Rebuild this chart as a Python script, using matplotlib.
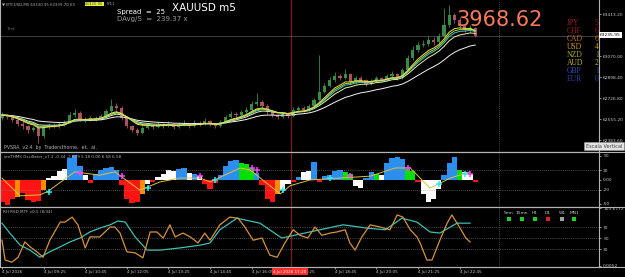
import numpy as np
import pandas as pd
import matplotlib
matplotlib.use('Agg')
import matplotlib.pyplot as plt
from matplotlib.lines import Line2D
from matplotlib.patches import Rectangle

W, H = 625, 277

# candles (one per 10 minutes)
first_open = 62560
closes = [62588, 62572, 62548, 62515, 62499, 62466, 62482, 62417, 62490, 62507,
          62499, 62515, 62531, 62588, 62605, 62556, 62548, 62564, 62556, 62580,
          62621, 62662, 62646, 62564, 62499, 62466, 62441, 62482, 62499, 62490,
          62507, 62499, 62515, 62490, 62507, 62515, 62499, 62523, 62515, 62539,
          62515, 62499, 62531, 62572, 62597, 62588, 62613, 62629, 62678, 62695,
          62662, 62613, 62588, 62572, 62597, 62580, 62629, 62646, 62629, 62662,
          62711, 62776, 62825, 62874, 62907, 62891, 62923, 62858, 62891, 62874,
          62842, 62866, 62891, 62874, 62907, 62923, 62891, 62956, 63054, 63120,
          63160, 63168, 63201, 63185, 63234, 63324, 63405, 63365, 63316, 63283,
          63299, 63236]
highs = [62615, 62600, 62590, 62560, 62540, 62510, 62500, 62495, 62505, 62525,
         62520, 62530, 62550, 62610, 62640, 62620, 62570, 62580, 62578, 62595,
         62640, 62715, 62690, 62660, 62575, 62510, 62480, 62495, 62515, 62510,
         62530, 62520, 62540, 62525, 62520, 62550, 62525, 62545, 62535, 62560,
         62550, 62525, 62545, 62590, 62620, 62610, 62630, 62650, 62700, 62770,
         62710, 62675, 62625, 62600, 62615, 62610, 62650, 62665, 62660, 62680,
         62730, 63080, 62850, 62900, 62940, 62925, 62960, 62935, 62910, 62905,
         62885, 62880, 62910, 62900, 62925, 62945, 62935, 62975, 63080, 63150,
         63185, 63200, 63230, 63225, 63260, 63460, 63490, 63420, 63385, 63330,
         63320, 63310]
lows = [62545, 62555, 62530, 62495, 62470, 62440, 62450, 62360, 62400, 62475,
        62480, 62485, 62500, 62520, 62575, 62540, 62530, 62535, 62540, 62545,
        62570, 62610, 62630, 62550, 62485, 62450, 62425, 62430, 62470, 62475,
        62480, 62485, 62490, 62470, 62480, 62495, 62480, 62490, 62500, 62505,
        62495, 62480, 62490, 62520, 62560, 62570, 62575, 62600, 62620, 62665,
        62645, 62600, 62570, 62555, 62560, 62565, 62570, 62615, 62615, 62620,
        62650, 62700, 62765, 62815, 62860, 62875, 62880, 62840, 62845, 62860,
        62825, 62830, 62855, 62860, 62865, 62895, 62875, 62880, 62945, 63040,
        63100, 63140, 63150, 63160, 63170, 63225, 63310, 63340, 63300, 63265,
        63270, 63225]
last_price = 63235.95
price_ticks = [63413.20, 63070.00, 62898.40, 62726.80, 62555.20, 62383.60]

# oscillator histogram
osc_values = [-45, -52, -40, -35, -28, -42, -46, -44, -20, 5,
              8, 18, 22, 45, 52, 30, 10, -6, 12, 20,
              25, 28, 20, -10, -40, -48, -45, -30, -8, -5,
              6, 12, 20, 18, 22, 25, 14, 12, 8, -8,
              -18, -6, 10, 30, 40, 42, 35, 34, 25, 15,
              -10, -40, -46, -30, -20, -8, -5, 6, 16, 18,
              37, -4, 8, 10, 18, 20, 16, 12, -12, -17,
              5, 16, 12, 10, 35, 46, 48, 44, 22, 18,
              -4, -30, -45, -40, -18, 10, 35, 48, 20, 16,
              12, -4]
osc_codes = ("rrrorrrrow" "wwwbbbwrbb" "bbbrrrrowr" "wwwwbbwbwr" "rrbbbbgggb"
             "rrrowwrbww" "brbbbbggww" "bbgwbbbbgg" "rwwwwbbbgw" "wr")
signal_bars = [0, 3.5, 7.3, 8.8, 14, 18.8, 21.7, 26.5, 30.4, 34.2, 38.1, 40,
               45.8, 47.7, 53.5, 55.4, 59.2, 65, 70.8, 75.6, 78.5, 82.3, 86.2, 90]
signal_values = [4, -33, -31, -24, 17, 10, 17, -21, -4, 4, 4, -4,
                 25, 21, -29, -12, 0, 4, 8, 25, 25, -17, 4, 17]
sell_bars = [15, 23, 38, 48, 49, 67, 78, 90]
sell_values = [15, 8, 8, 25, 21, 8, 25, 12]
buy_bars = [9, 28, 41, 54, 63, 84, 89]
buy_values = [-25, -17, 0, -21, 4, -8, 12]

# RSI MTF lines
fast_bars = [0, 0.6, 1.9, 3.1, 4.4, 5.4, 6.7, 7.9, 9.2, 11.2, 12.1, 13.5, 14.6, 16,
             16.9, 18.8, 20.8, 21.7, 22.7, 24, 25.6, 27.1, 28.5, 29.8, 31, 32.3,
             33.3, 34.8, 36.2, 37.7, 39, 40, 41.9, 43.8, 45.4, 46.7, 48.3, 50,
             51.5, 52.9, 54.4, 56, 57.3, 58.8, 60.2, 61.5, 63.1, 64.4, 66, 66.9,
             67.9, 69.2, 70.8, 72.7, 74.6, 76, 77.1, 78.5, 79.8, 80.4, 81.7, 82.7,
             84.2, 85.6, 86.5, 87.7, 89.2, 90]
fast_rsi = [46, 10, 6, 15, 43, 34, 25, 15, 46, 79, 79, 88, 74, 32, 52, 52, 70, 70,
            59, 25, 23, 14, 61, 61, 50, 74, 52, 59, 52, 41, 59, 46, 74, 88, 86, 70,
            46, 50, 19, 15, 41, 65, 55, 50, 70, 55, 59, 61, 65, 41, 28, 52, 74, 70,
            65, 92, 88, 65, 52, 41, 10, 10, 46, 77, 92, 74, 50, 43]
slow_bars = [0, 1.5, 3.5, 5.4, 7.3, 9.2, 11.2, 13.1, 15, 16.9, 18.8, 20.8, 22.3,
             23.7, 25.6, 27.9, 30.4, 34.2, 38.1, 40, 41.9, 45.2, 49.6, 53.8, 59.2,
             65.6, 70.2, 73.7, 76.9, 79.8, 82.3, 84.2, 87.5, 90]
slow_rsi = [77, 59, 37, 28, 15, 25, 34, 43, 50, 61, 68, 74, 81, 79, 52, 28, 28, 32,
            37, 41, 65, 86, 77, 50, 61, 74, 68, 65, 86, 79, 61, 59, 77, 77]

time_labels = ['4 Jul 2026', '4 Jul 09:25', '4 Jul 10:45', '4 Jul 12:05',
               '4 Jul 13:25', '4 Jul 14:45', '4 Jul 16:05', '4 Jul 17:25',
               '4 Jul 18:45', '4 Jul 20:05', '4 Jul 21:25', '4 Jul 22:45']

currencies = ['JPY', 'CHF', 'CAD', 'USD', 'NZD', 'AUD', 'GBP', 'EUR']
currency_digits = ['5', '6', '6', '4', '1', '2', '1', '0']
currency_colors = ['#a41c1c', '#9c1a1a', '#c06a1c', '#c8a020', '#b0b028',
                   '#c8b030', '#3050b8', '#2a46a0']

mtf_frames = ['5mn', '15mn', 'H1', 'D1', 'W1', 'MN1']
mtf_colors = ['#20d020', '#20d020', '#20d020', '#e02020', '#a0a0a0', '#20d020']


def fx(x):
    return x / W


def fy(y):
    return 1 - y / H


fig = plt.figure(figsize=(W / 100, H / 100), dpi=100, facecolor='black')
ax_main = fig.add_axes([0, fy(152), 599 / W, 152 / H])
ax_osc = fig.add_axes([0, fy(207), 599 / W, 55 / H])
ax_rsi = fig.add_axes([0, fy(267), 599 / W, 60 / H])

grey = '#c8c8c8'
for ax in (ax_main, ax_osc, ax_rsi):
    ax.set_facecolor('black')
    ax.set_xlim(-0.38, 114.8)
    for s in ax.spines.values():
        s.set_color('#b4b4b4')
        s.set_linewidth(0.8)
    ax.yaxis.tick_right()
    ax.tick_params(axis='y', colors=grey, labelsize=3.2, length=1.5, width=0.5, pad=1.5)
    ax.tick_params(axis='x', bottom=False, labelbottom=False)
    ax.axvline(55.6, color='#7a1a1a', lw=0.9, zorder=1)
    ax.axvline(95.6, color='#8c8c8c', lw=0.5, ls=(0, (1, 2)))
ax_main.spines['top'].set_visible(False)

# main price panel
idx = np.arange(len(closes))
c = np.array(closes, dtype=float)
o = np.array([first_open] + closes[:-1], dtype=float)
up = c >= o
cols = np.where(up, '#3a8a48', '#a8545c')
ax_main.vlines(idx, lows, highs, colors=cols, lw=0.6, zorder=2)
ax_main.bar(idx, np.maximum(np.abs(c - o), 3), bottom=np.minimum(o, c),
            width=0.62, color=cols, lw=0, zorder=2)
s = pd.Series(closes, dtype=float)
for span, col in [(20, '#f4f4f4'), (10, '#f0f0a0'), (8, '#40c8d0'), (7, '#a8e040'), (6, '#f0dc50')]:
    ax_main.plot(idx, s.ewm(span=span, adjust=False).mean(), color=col, lw=0.7, zorder=3)
ax_main.axhline(last_price, color='#5a5a5a', lw=0.5, zorder=1)
ax_main.set_ylim(62285.8, 63527.6)
ax_main.set_yticks(price_ticks)
ax_main.set_yticklabels(['%.2f' % v for v in price_ticks])

for i, (cur, dig, col) in enumerate(zip(currencies, currency_digits, currency_colors)):
    yy = 1 - (23 + 8 * i) / 152
    ax_main.text(567 / 599, yy, cur, transform=ax_main.transAxes, color=col,
                 fontsize=5.5, family='Liberation Serif', va='center', ha='left')
    ax_main.text(595 / 599, yy, dig, transform=ax_main.transAxes, color=col,
                 fontsize=5.5, family='Liberation Serif', va='center', ha='left', clip_on=True)

# oscillator panel
cmap = {'r': '#ff1414', 'o': '#ff8c00', 'w': '#ffffff', 'b': '#2b8ff0', 'g': '#00e000'}
ax_osc.bar(np.arange(len(osc_values)), osc_values, width=1.0,
           color=[cmap[k] for k in osc_codes], lw=0, zorder=2)
ax_osc.plot(signal_bars, signal_values, color='#e0c040', lw=0.7, zorder=3)
ax_osc.plot(sell_bars, sell_values, ls='none', marker='+', color='#ff40ff', ms=4, mew=1.1, zorder=4)
ax_osc.plot(buy_bars, buy_values, ls='none', marker='+', color='#30e8f0', ms=4, mew=1.1, zorder=4)
for lvl in (20, -20):
    ax_osc.axhline(lvl, color='#8c8c8c', lw=0.5, ls=(0, (1, 2)))
ax_osc.set_ylim(-56.3, 58.3)
ax_osc.set_yticks([50, 20, 0, -20, -50])
ax_osc.set_yticklabels(['50', '20', '0.00', '-20', '-50'])

# RSI panel
ax_rsi.plot(slow_bars, slow_rsi, color='#3cc0b4', lw=0.9)
ax_rsi.plot(fast_bars, fast_rsi, color='#d8933c', lw=0.9)
for lvl in (70, 50, 30):
    ax_rsi.axhline(lvl, color='#8c8c8c', lw=0.5, ls=(0, (1, 2)))
ax_rsi.set_ylim(-2.7, 106.4)
ax_rsi.set_yticks([103.6772, 70, 50, 30, 0])
ax_rsi.set_yticklabels(['103.6772', '70', '50', '30', '0.0052'])
ax_rsi.set_xticks(np.arange(0, 8 * len(time_labels), 8))
ax_rsi.set_xticklabels(time_labels)
ax_rsi.tick_params(axis='x', bottom=True, labelbottom=True, labelsize=3, colors=grey,
                   length=1.5, width=0.5, pad=1)
for lbl in ax_rsi.get_xticklabels():
    lbl.set_ha('left')

# separators across the price strip
for yy in (152, 207, 267):
    fig.add_artist(Line2D([0, 1], [fy(yy), fy(yy)], color='#b4b4b4', lw=0.8,
                          transform=fig.transFigure))

# texts
fig.text(fx(2), fy(4), '\u25bc BTCUSD,M5 63330.95 63339.70 63',
         color='#b0b0b0', fontsize=2.8, va='center')
fig.text(fx(85), fy(4), '63325.95', color='#2040c0', fontsize=2.8, va='center',
         bbox=dict(boxstyle='square,pad=0.1', fc='#f0f020', ec='none'))
fig.text(fx(107), fy(4), '5/11', color='#b0b0b0', fontsize=2.8, va='center')
fig.text(fx(6), fy(29), 'Test', color='#707070', fontsize=3.2, va='center')
fig.text(fx(117), fy(12), 'Spread  =  25', color='white', fontsize=5, va='center')
fig.text(fx(117), fy(18.5), 'DAvg/S  =  239.37 x', color='#9a9a9a', fontsize=5, va='center')
fig.text(fx(172), fy(8), 'XAUUSD m5', color='white', fontsize=7.5, va='center')
fig.text(fx(456), fy(20), '3968.62', color='#f47a5a', fontsize=15, va='center')
fig.text(fx(4), fy(147), 'PVSRA  v2.4  by  Tradersthorne,  et.  al.', color='#b0b0b0',
         fontsize=3.4, va='center')
fig.text(fx(4), fy(156.5), 'smTHMS Oscillator_v7.2 -0.34 -2.829 5.18 0.00 6.58 6.58',
         color='#b0b0b0', fontsize=3.0, va='center')
fig.text(fx(3), fy(212), 'RH RSD MTF v0.5 (8/34)', color='#b0b0b0', fontsize=3.0, va='center')
fig.text(fx(600), fy(35), '63235.95', color='black', fontsize=3.2, va='center',
         bbox=dict(boxstyle='square,pad=0.2', fc='white', ec='none'))
fig.text(fx(604), fy(146), 'Escala Vertical', color='#404040', fontsize=3.6, va='center',
         ha='center', bbox=dict(boxstyle='square,pad=0.3', fc='#e4e4e4', ec='#a0a0a0', lw=0.4))
fig.text(fx(290), fy(271.5), '4 Jul 2026 17:20', color='white', fontsize=3, va='center',
         ha='center', bbox=dict(boxstyle='square,pad=0.3', fc='#ff2a2a', ec='none'))

mtf_x = [509, 522, 535, 548, 562, 574]
for name, col, xx in zip(mtf_frames, mtf_colors, mtf_x):
    fig.text(fx(xx), fy(213), name, color=grey, fontsize=3.2, ha='center', va='center')
    fig.add_artist(Rectangle((fx(xx - 2), fy(221)), 4 / W, 4 / H, fc=col, ec='none',
                             transform=fig.transFigure))

fig.savefig('out.png', dpi=100, facecolor='black')
